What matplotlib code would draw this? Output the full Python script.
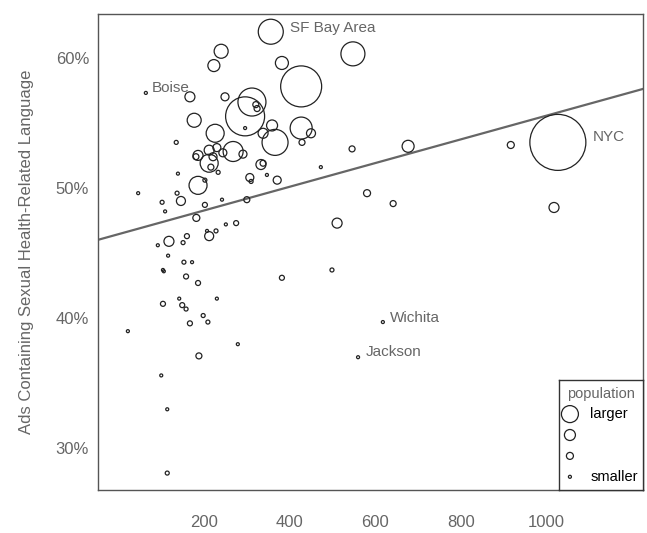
import numpy as np
import matplotlib
matplotlib.use("Agg")
import matplotlib.pyplot as plt

plt.rcParams['font.family'] = ['Liberation Sans', 'DejaVu Sans']

# ---- datos ----
ads_x = [356, 548, 240, 223, 382, 427, 296, 312, 321, 324,
         64, 167, 249, 177, 226, 296, 338, 359, 366, 427,
         450, 429, 135, 186, 181, 212, 230, 221, 212, 216,
         244, 268, 291, 233, 333, 338, 347, 307, 310, 371,
         186, 202, 139, 46, 137, 146, 102, 202, 242, 300,
         473, 546, 581, 677, 917, 1027, 642, 1018, 511, 499,
         109, 182, 251, 275, 92, 118, 151, 160, 207, 212,
         228, 116, 153, 172, 104, 106, 158, 186, 382, 104,
         142, 149, 158, 230, 198, 209, 167, 22, 279, 188,
         618, 560, 100, 114, 114]

pct_sexual = [62.0, 60.3, 60.5, 59.4, 59.6, 57.8, 55.5, 56.6, 56.4, 56.1,
              57.3, 57.0, 57.0, 55.2, 54.2, 54.6, 54.2, 54.8, 53.5, 54.6,
              54.2, 53.5, 53.5, 52.5, 52.4, 52.9, 53.1, 52.4, 51.9, 51.6,
              52.7, 52.8, 52.6, 51.2, 51.8, 51.9, 51.0, 50.8, 50.5, 50.6,
              50.2, 50.6, 51.1, 49.6, 49.6, 49.0, 48.9, 48.7, 49.1, 49.1,
              51.6, 53.0, 49.6, 53.2, 53.3, 53.5, 48.8, 48.5, 47.3, 43.7,
              48.2, 47.7, 47.2, 47.3, 45.6, 45.9, 45.8, 46.3, 46.7, 46.3,
              46.7, 44.8, 44.3, 44.3, 43.7, 43.6, 43.2, 42.7, 43.1, 41.1,
              41.5, 41.0, 40.7, 41.5, 40.2, 39.7, 39.6, 39.0, 38.0, 37.1,
              39.7, 37.0, 35.6, 33.0, 28.1]

# tamano relativo del circulo (radio, proporcional a la poblacion)
pop_r = [12.5, 12, 7, 6, 6.5, 20.5, 19.5, 14, 3, 3,
         1.5, 5, 4, 7, 9, 1.5, 5, 5.5, 13, 11,
         4.5, 3, 2, 5, 3, 5, 4, 4, 9, 3,
         4, 10, 4, 2, 5, 3, 1.5, 4, 2, 4,
         9, 2, 1.5, 1.5, 2, 4.5, 2, 2.5, 1.5, 3,
         1.5, 3, 3.5, 6, 3.5, 28, 3, 5, 5, 2,
         1.5, 3.5, 1.5, 2.5, 1.5, 5, 2, 2.5, 1.5, 4.5,
         2, 1.5, 2, 1.5, 1.5, 1.5, 2.5, 2.5, 2.5, 2.5,
         1.5, 2.5, 2, 1.5, 2, 2, 2.5, 1.5, 1.5, 3,
         1.5, 1.5, 1.5, 1.5, 2]

# ciudades etiquetadas: indice -> (nombre, desplazamiento en pixeles)
etiquetas = {0: ("SF Bay Area", (19, 4)),
             10: ("Boise", (6, 5)),
             55: ("NYC", (35, 5)),
             90: ("Wichita", (7, 4)),
             91: ("Jackson", (8, 5))}

# recta de ajuste
fit_intercept = 46.45
fit_slope = 0.0091

legend_r = [8.5, 5.5, 3.5, 1.5]
legend_txt = ["larger", "", "", "smaller"]

GRIS = "#666666"
W, H = 647, 533

fig = plt.figure(figsize=(W / 100, H / 100), dpi=100)
ax = fig.add_axes([97.5 / W, 1 - 490 / H, (643 - 97.5) / W, (490 - 13.5) / H])


def r_a_s(r):
    # radio en pixeles -> area en pt^2
    return (2 * np.array(r) * 0.72) ** 2


ax.scatter(ads_x, pct_sexual, s=r_a_s(pop_r), facecolors='none',
           edgecolors='#222222', linewidths=0.9, zorder=3)

ax.axline((0, fit_intercept), slope=fit_slope, color=GRIS, lw=1.6, zorder=2)

for i, (nombre, (dx, dy)) in etiquetas.items():
    ax.annotate(nombre, (ads_x[i], pct_sexual[i]), xytext=(dx, dy),
                textcoords='offset pixels', ha='left', va='center',
                fontsize=11, color=GRIS)

ax.set_xlim(-49, 1226)
ax.set_ylim(26.8, 63.4)
ax.set_xticks([200, 400, 600, 800, 1000])
ax.set_yticks([30, 40, 50, 60])
ax.set_yticklabels(["30%", "40%", "50%", "60%"])
ax.tick_params(axis='x', length=0, pad=18, labelsize=12, labelcolor=GRIS)
ax.tick_params(axis='y', length=0, pad=6, labelsize=12, labelcolor=GRIS)
ax.set_ylabel("Ads Containing Sexual Health-Related Language", fontsize=12,
              color=GRIS, labelpad=16)
for sp in ax.spines.values():
    sp.set_color("#555555")
    sp.set_linewidth(1.0)

# leyenda dibujada a mano
lax = fig.add_axes([559 / W, 1 - 490 / H, (643 - 559) / W, (490 - 380) / H])
lax.set_xlim(0, 1)
lax.set_ylim(0, 1)
lax.set_xticks([])
lax.set_yticks([])
for sp in lax.spines.values():
    sp.set_color("#333333")
    sp.set_linewidth(1.0)
lax.text(0.5, 0.87, "population", ha='center', va='center', fontsize=10.5,
         color=GRIS)
filas = np.linspace(0.69, 0.12, len(legend_r))
lax.scatter([0.13] * len(legend_r), filas, s=r_a_s(legend_r),
            facecolors='none', edgecolors='#222222', linewidths=0.9)
for yy, t in zip(filas, legend_txt):
    lax.text(0.37, yy, t, ha='left', va='center', fontsize=10.5, color='black')

fig.savefig("out.png", dpi=100)
